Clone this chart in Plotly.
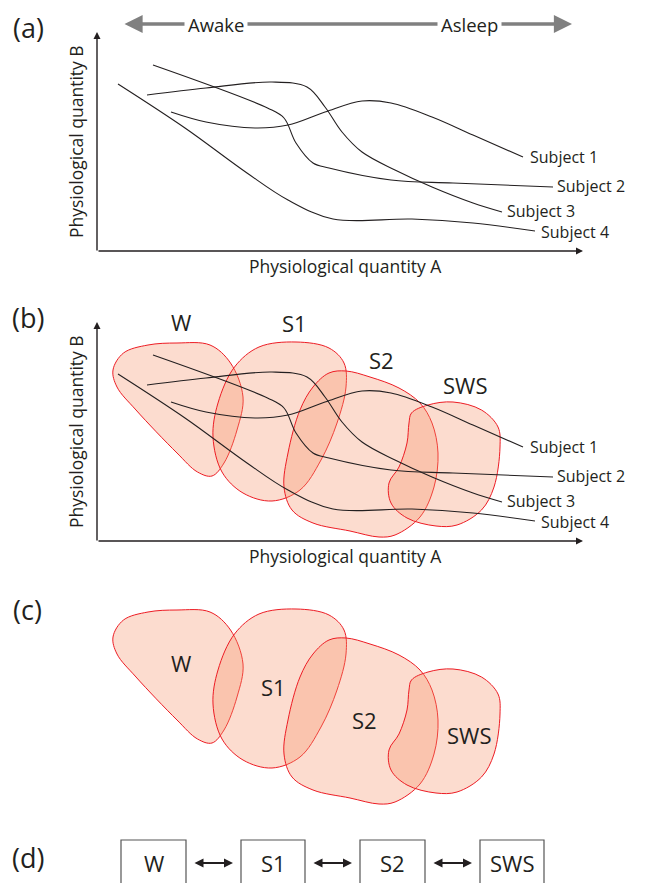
import plotly.graph_objects as go

# ---------------- data (panel-(a) pixel coordinates) ----------------
subject1_x = [171, 206, 255, 288, 325, 362, 391, 432, 473, 523]
subject1_y = [112, 122, 128, 125, 112, 101, 103, 117, 135, 157]
subject2_x = [153, 267.5, 284, 296, 313, 329, 391, 453, 553]
subject2_y = [65, 108, 118, 143, 163, 168, 180, 183, 187]
subject3_x = [147, 206, 272, 307, 325, 342, 362, 395, 432, 473, 502]
subject3_y = [95, 88, 82, 87, 107, 132, 152, 170, 187, 203, 212]
subject4_x = [118, 185, 247, 288, 333, 412, 473, 535]
subject4_y = [84, 128, 173, 200, 219, 219, 223, 231]
subject_names = ["Subject 1", "Subject 2", "Subject 3", "Subject 4"]
subject_label_x = [529, 556, 506, 540]
subject_label_y = [157, 186, 210.5, 232]

# state regions (panel-(b) pixel coordinates)
w_x = [177, 210, 230.5, 243, 237, 224, 212, 197.5, 177, 136, 117, 113, 123.5, 148, 177]
w_y = [343, 345, 363, 397, 430, 463, 476, 472, 453, 410, 387, 370, 353, 345, 343]
s1_x = [296, 329, 344, 346, 337, 321, 300, 272, 243, 222, 213, 218, 234.5, 259, 296]
s1_y = [342, 348, 363, 387, 423, 460, 490, 501, 493, 472, 437, 403, 367, 347, 342]
s2_x = [346, 370, 399, 420, 432, 438, 434, 420, 395, 379, 350, 313, 292, 284, 288, 300, 313, 329, 346]
s2_y = [371, 377, 388, 403, 423, 453, 487, 517, 535, 537, 531, 523, 510, 487, 453, 410, 387, 373, 371]
sws_x = [453, 481.5, 498, 500, 494, 481.5, 457, 436, 407, 391, 389, 399, 407, 409, 411.5, 428, 453]
sws_y = [402, 410, 427, 447, 487, 510, 525, 526, 518, 503, 483, 467, 443, 423, 413, 405, 402]
state_names = ["W", "S1", "S2", "SWS"]
state_label_b_x = [181, 294, 381, 465]
state_label_b_y = [322, 323, 360, 385]
state_label_c_x = [181, 273, 364, 469]
state_label_c_y = [663, 687, 720, 735]

# panel (d) boxes
box_left = [121, 241, 360, 480]
box_right = [186, 305, 425, 544]

# ---------------- layout constants ----------------
DY_B = 290      # panel (b) axes/curves relative to panel (a)
DY_C = 267      # panel (c) regions relative to panel (b)
INK = "#231f20"
FONT = "Open Sans"
FILL = "rgba(245,145,105,0.32)"
EDGE = "#ed1c24"

fig = go.Figure()
annotations = []
shapes = []

def add_text(x, y, text, size, anchor="center", angle=0, bg=None, color=INK, pad=1):
    d = dict(x=x, y=y, xref="x", yref="y", text=text, showarrow=False,
             xanchor=anchor, yanchor="middle", textangle=angle, borderpad=pad,
             font=dict(family=FONT, size=size, color=color))
    if bg:
        d.update(bgcolor=bg, borderpad=3)
    annotations.append(d)

def add_arrow(x0, y0, x1, y1, color=INK, width=1.4, size=1.0, both=False, head=2):
    annotations.append(dict(x=x1, y=y1, ax=x0, ay=y0, xref="x", yref="y",
                            axref="x", ayref="y", text="", showarrow=True,
                            arrowhead=head, startarrowhead=head, arrowwidth=width,
                            arrowsize=size, startarrowsize=size, arrowcolor=color,
                            arrowside="end+start" if both else "end",
                            standoff=0, startstandoff=0))

subjects = [(subject1_x, subject1_y), (subject2_x, subject2_y),
            (subject3_x, subject3_y), (subject4_x, subject4_y)]
blobs = [(w_x, w_y), (s1_x, s1_y), (s2_x, s2_y), (sws_x, sws_y)]

def draw_axes_panel(dy):
    add_arrow(97, 252 + dy, 97, 32 + dy)
    add_arrow(97, 251 + dy, 583, 251 + dy)
    add_text(76, 142 + dy, "Physiological quantity B", 17.5, angle=-90)
    add_text(345, 266 + dy, "Physiological quantity A", 17.5)

def draw_subjects(dy):
    for (xs, ys), name, lx, ly in zip(subjects, subject_names, subject_label_x, subject_label_y):
        fig.add_trace(go.Scatter(x=xs, y=[v + dy for v in ys], mode="lines",
                                 line=dict(color=INK, width=1.1, shape="spline", smoothing=1),
                                 hoverinfo="skip", showlegend=False))
        add_text(lx, ly + dy, name, 16, anchor="left", pad=0)

def draw_blobs(dy):
    for xs, ys in blobs:
        fig.add_trace(go.Scatter(x=xs, y=[v + dy for v in ys], mode="lines",
                                 fill="toself", fillcolor=FILL,
                                 line=dict(color=EDGE, width=1, shape="spline", smoothing=1),
                                 hoverinfo="skip", showlegend=False))

# ---- panel (a)
add_text(28, 27, "(a)", 27)
add_arrow(123, 24, 572, 24, color="#808080", width=3.3, size=1.1, both=True)
add_text(216, 24, "Awake", 18.5, bg="white")
add_text(469, 24, "Asleep", 18.5, bg="white")
draw_axes_panel(0)
draw_subjects(0)

# ---- panel (b)
add_text(28, 27 + DY_B, "(b)", 27)
draw_blobs(0)
draw_axes_panel(DY_B)
draw_subjects(DY_B)
for name, x, y in zip(state_names, state_label_b_x, state_label_b_y):
    add_text(x, y, name, 22)

# ---- panel (c)
add_text(27, 609, "(c)", 27)
draw_blobs(DY_C)
for name, x, y in zip(state_names, state_label_c_x, state_label_c_y):
    add_text(x, y, name, 22)

# ---- panel (d)
add_text(28, 857, "(d)", 27)
for name, l, r in zip(state_names, box_left, box_right):
    shapes.append(dict(type="rect", xref="x", yref="y", x0=l, x1=r, y0=840, y1=895,
                       line=dict(color="#555555", width=1.2)))
    add_text((l + r) / 2, 863, name, 22)
for r, l in zip(box_right[:-1], box_left[1:]):
    add_arrow(r + 7, 863, l - 8, 863, both=True, width=1.8, size=1.0)

fig.update_layout(
    width=646, height=883, margin=dict(l=0, r=0, t=0, b=0),
    paper_bgcolor="white", plot_bgcolor="white",
    xaxis=dict(range=[0, 646], visible=False, fixedrange=True),
    yaxis=dict(range=[883, 0], visible=False, fixedrange=True),
    annotations=annotations, shapes=shapes, showlegend=False,
)
fig.write_html("out.html", config={"displayModeBar": False},
               post_script="document.body.style.margin='0';")
